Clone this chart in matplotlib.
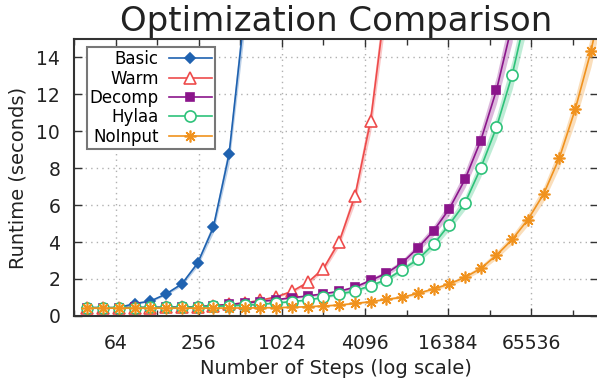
import matplotlib
matplotlib.use("Agg")
import matplotlib.pyplot as plt
import numpy as np
from matplotlib.ticker import FixedLocator, FixedFormatter, NullFormatter

plt.rcParams['font.family'] = ['DejaVu Sans']

# Steps: geometric sequence read from the x positions (40 * 1.3^k)
steps = [40 * 1.3 ** k for k in range(34)]

basic = [0.42, 0.42, 0.45, 0.67, 0.80, 1.19, 1.73, 2.85, 4.79, 8.75, 16.5]
warm = [0.43, 0.43, 0.43, 0.44, 0.45, 0.46, 0.48, 0.50, 0.55, 0.62, 0.70,
        0.85, 1.03, 1.33, 1.81, 2.56, 4.01, 6.48, 10.58, 17.3]
decomp = [0.45, 0.45, 0.45, 0.46, 0.46, 0.47, 0.48, 0.50, 0.55, 0.62, 0.70,
          0.78, 0.88, 0.99, 1.08, 1.20, 1.33, 1.56, 1.92, 2.31, 2.87, 3.68,
          4.61, 5.80, 7.40, 9.50, 12.24, 15.8]
hylaa = [0.45, 0.45, 0.45, 0.45, 0.46, 0.46, 0.47, 0.48, 0.52, 0.55, 0.58,
         0.63, 0.70, 0.78, 0.86, 1.01, 1.18, 1.35, 1.64, 1.96, 2.50, 3.06,
         3.87, 4.95, 6.12, 8.01, 10.22, 13.07, 16.8]
noinput = [0.42, 0.42, 0.42, 0.42, 0.42, 0.42, 0.42, 0.42, 0.42, 0.43, 0.43,
           0.44, 0.45, 0.47, 0.50, 0.54, 0.59, 0.68, 0.77, 0.90, 1.01, 1.22,
           1.46, 1.73, 2.09, 2.57, 3.29, 4.14, 5.22, 6.61, 8.57, 11.18, 14.33,
           18.3]

labels = ["Basic", "Warm", "Decomp", "Hylaa", "NoInput"]
colors = ["#1f62b0", "#ee4b4b", "#8b158b", "#2ec27a", "#f0921e"]
xticks_major = [64, 256, 1024, 4096, 16384, 65536]
xticks_minor = [32, 128, 512, 2048, 8192, 32768, 131072]
yticks = [0, 2, 4, 6, 8, 10, 12, 14]

fig = plt.figure(figsize=(5.97, 3.82), dpi=100)
ax = fig.add_axes([0.124, 0.173, 0.878, 0.725])

# dotted grid only at labelled ticks
for xv in xticks_major:
    ax.axvline(xv, linestyle=(0, (1, 3)), color="#b0b0b0", lw=1.0, zorder=0.5)
for yv in yticks[1:]:
    ax.axhline(yv, linestyle=(0, (1, 3)), color="#b0b0b0", lw=1.0, zorder=0.5)

series = [basic, warm, decomp, hylaa, noinput]
markers = ["D", "^", "s", "o", (8, 2, 0)]
mfaces = [colors[0], "white", colors[2], "white", colors[4]]
msizes = [5.5, 8, 5.5, 8, 8.5]

for vals, lab, col, mk, mf, ms in zip(series, labels, colors, markers, mfaces, msizes):
    x = np.array(steps[:len(vals)])
    y = np.array(vals)
    ax.fill_between(x, y * 0.94, y * 1.06, color=col, alpha=0.3, lw=0)
    ax.plot(x, y, color=col, lw=1.2, marker=mk, markerfacecolor=mf,
            markeredgecolor=col, markersize=ms, markeredgewidth=1.2, label=lab)

ax.set_xscale("log", base=2)
ax.set_xlim(32, 200000)
ax.set_ylim(0, 15)
ax.xaxis.set_major_locator(FixedLocator(xticks_major))
ax.xaxis.set_major_formatter(FixedFormatter([str(v) for v in xticks_major]))
ax.xaxis.set_minor_locator(FixedLocator(xticks_minor))
ax.xaxis.set_minor_formatter(NullFormatter())
ax.set_yticks(yticks)
ax.set_yticklabels([str(v) for v in yticks])
ax.grid(False)

ax.tick_params(axis="both", which="both", direction="in", top=True, right=True,
               labelsize=13.5, colors="#333333", labelcolor="#222222")
ax.tick_params(axis="both", which="major", length=6, width=1.0)
ax.tick_params(axis="x", which="major", pad=13)
ax.tick_params(axis="y", which="major", pad=10)
ax.tick_params(axis="x", which="minor", length=4, width=1.0)

for s in ax.spines.values():
    s.set_color("#333333")
    s.set_linewidth(1.5)

ax.set_xlabel("Number of Steps (log scale)", fontsize=14, color="#222222", labelpad=4)
ax.set_ylabel("Runtime (seconds)", fontsize=14, color="#222222", labelpad=6)
ax.set_title("Optimization Comparison", fontsize=24.5, color="#222222", pad=6)

leg = ax.legend(loc="upper left", bbox_to_anchor=(0.024, 0.97), markerfirst=False,
                fontsize=12, frameon=True, fancybox=False, framealpha=1,
                edgecolor="#777777", handlelength=2.6, labelspacing=0.08,
                borderpad=0.18, handletextpad=0.6, borderaxespad=0)
leg.get_frame().set_linewidth(1.5)

fig.savefig("out.png", dpi=100)
